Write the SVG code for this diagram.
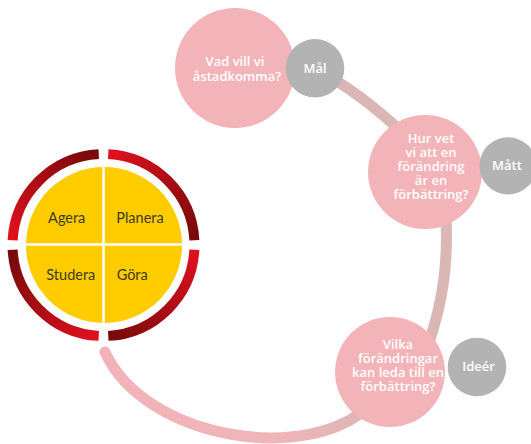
<svg xmlns="http://www.w3.org/2000/svg" width="531" height="444" viewBox="0 0 531 444">
  <style>
    .pink { fill: #f3b4b9; }
    .grey { fill: #b3b3b3; }
    .conn { fill: none; stroke: #dab6b5; stroke-width: 11; }
    .wt { font-family: "Open Sans", "DejaVu Sans", sans-serif; font-weight: 600; font-size: 13px; fill: #ffffff; text-anchor: middle; }
    .pd { font-family: Lato, "Liberation Sans", sans-serif; font-size: 14.5px; fill: #3d3a22; text-anchor: middle; }
    .seg { fill: none; stroke-width: 10; }
  </style>
  <defs>
    <linearGradient id="gBottom" gradientUnits="userSpaceOnUse" x1="105" y1="352" x2="370" y2="405">
      <stop offset="0" stop-color="#f2b3b8"/>
      <stop offset="0.7" stop-color="#f0b5b8"/>
      <stop offset="1" stop-color="#dcb6b5"/>
    </linearGradient>
    <linearGradient id="gTR" gradientUnits="userSpaceOnUse" x1="108.3" y1="154.1" x2="194.4" y2="240.2">
      <stop offset="0" stop-color="#e0101e"/>
      <stop offset="1" stop-color="#760a0a"/>
    </linearGradient>
    <linearGradient id="gBR" gradientUnits="userSpaceOnUse" x1="194.4" y1="249.8" x2="108.3" y2="335.9">
      <stop offset="0" stop-color="#e0101e"/>
      <stop offset="1" stop-color="#760a0a"/>
    </linearGradient>
    <linearGradient id="gBL" gradientUnits="userSpaceOnUse" x1="98.7" y1="335.9" x2="12.6" y2="249.8">
      <stop offset="0" stop-color="#e0101e"/>
      <stop offset="1" stop-color="#760a0a"/>
    </linearGradient>
    <linearGradient id="gTL" gradientUnits="userSpaceOnUse" x1="12.6" y1="240.2" x2="98.7" y2="154.1">
      <stop offset="0" stop-color="#e0101e"/>
      <stop offset="1" stop-color="#760a0a"/>
    </linearGradient>
  </defs>
  <rect width="531" height="444" fill="#ffffff"/>

  <g id="connectors">
    <path class="conn" d="M318,70 Q362,94 405,135"/>
    <path class="conn" d="M446,215 C448,260 444,300 428,345"/>
    <path class="conn" d="M105,352 C145,440 310,465 370,405" stroke="url(#gBottom)" stroke-linecap="round" style="stroke:url(#gBottom)"/>
  </g>

  <g id="goal">
    <circle class="pink" cx="235" cy="68" r="60"/>
    <text class="wt" x="235" y="66">Vad vill vi</text>
    <text class="wt" x="237" y="81">åstadkomma?</text>
  </g>
  <g id="mal">
    <circle class="grey" cx="315" cy="68.3" r="29.3"/>
    <text class="wt" x="315" y="72.7">Mål</text>
  </g>

  <g id="measure">
    <circle class="pink" cx="425" cy="172" r="57"/>
    <text class="wt" x="431" y="142.7">Hur vet</text>
    <text class="wt" x="431" y="156.7">vi att en</text>
    <text class="wt" x="431" y="170.7">förändring</text>
    <text class="wt" x="431" y="184.6">är en</text>
    <text class="wt" x="431" y="198.6">förbättring?</text>
  </g>
  <g id="matt">
    <circle class="grey" cx="508" cy="165.8" r="28.6"/>
    <text class="wt" x="507" y="169.5">Mått</text>
  </g>

  <g id="ideas">
    <circle class="pink" cx="390" cy="372" r="55"/>
    <text class="wt" x="398" y="348.5">Vilka</text>
    <text class="wt" x="398" y="362.6">förändringar</text>
    <text class="wt" x="398" y="376.7">kan leda till en</text>
    <text class="wt" x="398" y="390.7">förbättring?</text>
  </g>
  <g id="ideer">
    <circle class="grey" cx="477" cy="367" r="29.3"/>
    <text class="wt" x="478.5" y="370.8">Ideér</text>
  </g>

  <g id="pdsa">
    <path class="seg" stroke="url(#gTR)" d="M108.26,154.13 A91,91 0 0 1 194.37,240.24"/>
    <path class="seg" stroke="url(#gBR)" d="M194.37,249.76 A91,91 0 0 1 108.26,335.87"/>
    <path class="seg" stroke="url(#gBL)" d="M98.74,335.87 A91,91 0 0 1 12.63,249.76"/>
    <path class="seg" stroke="url(#gTL)" d="M12.63,240.24 A91,91 0 0 1 98.74,154.13"/>
    <circle cx="104" cy="245" r="78" fill="#ffcc00"/>
    <line x1="103.5" y1="166" x2="103.5" y2="324" stroke="#ffffff" stroke-width="2.5"/>
    <line x1="25" y1="244.5" x2="183" y2="244.5" stroke="#ffffff" stroke-width="2.5"/>
    <text class="pd" x="66.7" y="222.7">Agera</text>
    <text class="pd" x="140" y="222.7">Planera</text>
    <text class="pd" x="70.8" y="280">Studera</text>
    <text class="pd" x="132.2" y="280">Göra</text>
  </g>
</svg>
